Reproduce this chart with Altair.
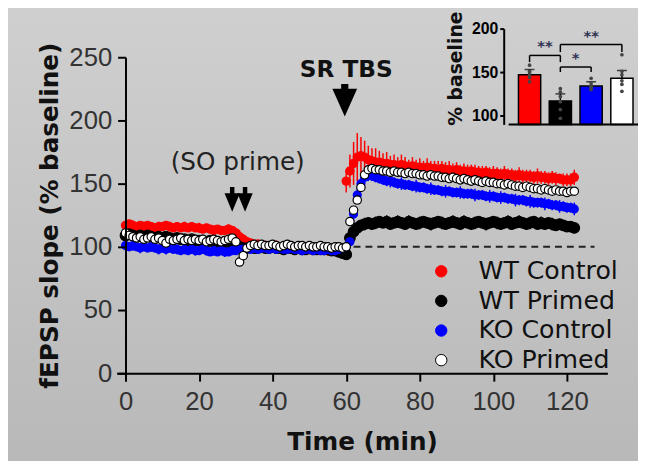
import altair as alt
import pandas as pd

# ---------------- data ----------------
series_names = ["WT Control", "WT Primed", "KO Control", "KO Primed"]
fill_colors = ["#ff0000", "#000000", "#0000ff", "#ffffff"]
stroke_colors = ["#ff0000", "#000000", "#0000ff", "#000000"]
point_sizes = [70, 115, 65, 72]

time_min = list(range(0, 123))

wt_control_mean = [
    117, 118, 117, 116, 117, 116, 117, 116, 115, 116,
    116, 117, 116, 115, 116, 115, 116, 115, 116, 115,
    115, 114, 115, 114, 113, 114, 113, 113, 114, 113,
    111, 108, 106, 104, 103, 102, 102, 101, 101, 100,
    100, 101, 100, 99, 100, 99, 99, 98, 99, 98,
    98, 99, 98, 97, 98, 97, 98, 97, 98, 99,
    152, 160, 166, 171, 172, 171, 169, 168, 167, 167,
    166, 166, 165, 165, 164, 165, 164, 163, 164, 163,
    163, 162, 163, 162, 162, 161, 162, 161, 161, 160,
    161, 160, 160, 159, 160, 159, 159, 158, 159, 158,
    158, 158, 157, 158, 157, 157, 156, 157, 156, 156,
    156, 155, 156, 155, 155, 154, 155, 154, 154, 153,
    153, 153, 155]
wt_control_sem = [
    3, 3, 4, 3, 3, 4, 3, 3, 3, 4,
    3, 3, 4, 3, 3, 3, 4, 3, 3, 3,
    4, 3, 3, 3, 4, 3, 3, 3, 4, 3,
    4, 5, 4, 4, 3, 3, 4, 3, 3, 3,
    3, 4, 3, 3, 3, 4, 3, 3, 3, 3,
    4, 3, 3, 3, 3, 4, 3, 3, 3, 4,
    9, 13, 17, 19, 15, 13, 11, 10, 11, 9,
    8, 9, 7, 8, 7, 8, 7, 6, 7, 6,
    7, 6, 7, 6, 6, 7, 6, 6, 7, 6,
    6, 5, 6, 6, 5, 6, 5, 6, 5, 5,
    6, 5, 5, 6, 5, 5, 5, 6, 5, 5,
    5, 5, 6, 5, 5, 5, 5, 5, 4, 5,
    5, 5, 6]

wt_primed_mean = [
    109, 110, 109, 108, 109, 108, 109, 108, 107, 108,
    107, 108, 107, 106, 107, 106, 106, 105, 106, 105,
    105, 105, 104, 105, 104, 104, 103, 104, 103, 104,
    102, 100, 99, 99, 100, 99, 99, 100, 99, 99,
    100, 99, 99, 98, 99, 99, 98, 99, 98, 98,
    99, 98, 98, 99, 98, 98, 97, 97, 96, 95,
    94, 107, 112, 115, 117, 118, 119, 118, 119, 120,
    119, 120, 118, 119, 120, 119, 118, 120, 119, 118,
    119, 120, 119, 118, 119, 120, 119, 118, 119, 120,
    119, 118, 120, 119, 118, 119, 120, 119, 118, 119,
    120, 119, 118, 119, 120, 118, 119, 120, 119, 118,
    119, 120, 118, 119, 118, 119, 118, 117, 118, 117,
    116, 116, 115]
wt_primed_sem = [
    2, 3, 2, 2, 3, 2, 2, 3, 2, 2,
    3, 2, 2, 3, 2, 2, 2, 3, 2, 2,
    2, 3, 2, 2, 3, 2, 2, 2, 3, 2,
    3, 3, 2, 2, 2, 3, 2, 2, 2, 3,
    2, 2, 3, 2, 2, 2, 3, 2, 2, 2,
    3, 2, 2, 2, 3, 2, 2, 3, 3, 4,
    4, 5, 5, 4, 4, 5, 4, 4, 5, 4,
    4, 5, 4, 4, 5, 4, 4, 5, 4, 4,
    5, 4, 4, 5, 4, 4, 5, 4, 4, 5,
    4, 4, 5, 4, 4, 5, 4, 4, 5, 4,
    4, 5, 4, 4, 5, 4, 4, 5, 4, 4,
    5, 4, 4, 5, 4, 4, 5, 4, 4, 4,
    4, 4, 4]

ko_control_mean = [
    101, 100, 101, 100, 99, 100, 99, 100, 99, 98,
    99, 98, 99, 98, 98, 97, 98, 97, 98, 97,
    97, 98, 97, 96, 97, 96, 97, 96, 96, 97,
    97, 98, 98, 99, 98, 99, 98, 99, 99, 98,
    99, 98, 99, 98, 98, 99, 98, 98, 97, 98,
    98, 97, 98, 97, 97, 98, 97, 97, 98, 99,
    100, 104, 126, 141, 150, 155, 157, 156, 155, 154,
    153, 152, 152, 151, 150, 150, 149, 149, 148, 148,
    147, 147, 146, 146, 145, 145, 144, 144, 144, 143,
    143, 143, 142, 142, 142, 141, 141, 141, 140, 140,
    140, 139, 139, 139, 138, 138, 137, 137, 137, 136,
    136, 135, 135, 135, 134, 134, 133, 133, 132, 132,
    131, 131, 130]
ko_control_sem = [
    4, 3, 4, 3, 4, 3, 3, 4, 3, 4,
    3, 4, 3, 3, 4, 3, 4, 3, 3, 4,
    3, 3, 4, 3, 4, 3, 3, 4, 3, 3,
    3, 3, 3, 3, 3, 3, 3, 3, 3, 3,
    3, 3, 3, 3, 3, 3, 3, 3, 3, 3,
    3, 3, 3, 3, 3, 3, 3, 3, 3, 3,
    4, 5, 6, 6, 5, 5, 5, 4, 4, 4,
    4, 4, 5, 4, 4, 5, 4, 4, 4, 5,
    4, 4, 4, 5, 4, 4, 4, 5, 4, 4,
    4, 5, 4, 4, 4, 5, 4, 4, 4, 5,
    4, 4, 5, 4, 4, 4, 5, 4, 4, 4,
    5, 4, 4, 4, 5, 4, 4, 4, 5, 4,
    4, 4, 5]

ko_primed_mean = [
    111, 109, 108, 107, 108, 106, 107, 108, 106, 107,
    105, 103, 106, 105, 106, 107, 105, 106, 105, 106,
    105, 106, 104, 105, 106, 105, 104, 105, 106, 107,
    104, 88, 93, 99, 101, 102, 101, 102, 101, 101,
    102, 101, 100, 101, 102, 101, 100, 101, 101, 100,
    101, 100, 100, 101, 100, 100, 99, 100, 100, 99,
    100, 120, 129, 137, 147, 157, 161, 162, 161, 161,
    160, 160, 159, 160, 159, 159, 158, 159, 158, 158,
    157, 157, 156, 157, 156, 156, 155, 155, 154, 155,
    154, 153, 154, 153, 152, 153, 152, 151, 152, 151,
    151, 150, 150, 149, 150, 149, 148, 148, 147, 148,
    147, 146, 146, 145, 146, 145, 144, 145, 144, 144,
    143, 144, 144]

baseline_value = 100
baseline_from = 62
baseline_to = 127.5

annotation_texts = ["SR TBS", "(SO prime)"]
annotation_t = [60, 30.5]
annotation_v = [239.5, 167]
sr_arrow_t = [59.6]
sr_arrow_v = [216]
prime_arrow_t = [29.0, 32.5]
prime_arrow_v = [137.5, 137.5]

# inset (bar graph)
inset_index = [0, 1, 2, 3]
inset_mean = [147, 117, 134, 143]
inset_err = [6, 8, 5, 9]
inset_base = 90
inset_dots = {
    0: [158, 151, 149, 147, 144, 139],
    1: [131, 127, 122, 116, 107, 97],
    2: [143, 138, 135, 132, 130, 133],
    3: [170, 151, 147, 140, 136, 128],
}
bracket_from = [0, 1, 1]
bracket_to = [1, 2, 3]
bracket_top = [169.2, 155.9, 181.7]
bracket_leg_bottom = [161.6, 150.2, 173.0]
star_texts = ["**", "*", "**"]
star_x = [0.5, 1.5, 2.0]
star_v = [180.5, 166.5, 192.0]

# ---------------- frames ----------------
all_means = [wt_control_mean, wt_primed_mean, ko_control_mean, ko_primed_mean]


def series_frame(name, means):
    return pd.DataFrame({"t": time_min, "v": means, "series": [name] * len(time_min)})


def err_frame(means, sems):
    return pd.DataFrame({"t": time_min,
                         "lo": [m - s for m, s in zip(means, sems)],
                         "hi": [m + s for m, s in zip(means, sems)]})


red_err = err_frame(wt_control_mean, wt_control_sem)
black_err = err_frame(wt_primed_mean, wt_primed_sem)
blue_err = err_frame(ko_control_mean, ko_control_sem)

base_df = pd.DataFrame({"t": [baseline_from], "t2": [baseline_to], "v": [baseline_value]})
ann_df = pd.DataFrame({"t": annotation_t, "v": annotation_v, "txt": annotation_texts})
sr_df = pd.DataFrame({"t": sr_arrow_t, "v": sr_arrow_v})
prime_df = pd.DataFrame({"t": prime_arrow_t, "v": prime_arrow_v})

bar_df = pd.DataFrame({"ix": inset_index, "iv": inset_mean, "series": series_names,
                       "base": [inset_base] * 4,
                       "top": [m + e for m, e in zip(inset_mean, inset_err)]})
dot_rows = []
for k, vals in inset_dots.items():
    for v in vals:
        dot_rows.append({"ix": k, "iv": v})
dot_df = pd.DataFrame(dot_rows)
br_h = pd.DataFrame({"ix": bracket_from, "ix2": bracket_to, "iv": bracket_top})
br_v = pd.DataFrame({"ix": bracket_from + bracket_to,
                     "iv": bracket_top + bracket_top,
                     "iv2": bracket_leg_bottom + bracket_leg_bottom})
star_df = pd.DataFrame({"ix": star_x, "iv": star_v, "txt": star_texts})
inset_axis_df = pd.DataFrame({"ix": [-0.68], "ix2": [3.6], "iv": [inset_base]})

# ---------------- scales / axes ----------------
W, H = 497, 320
xs = alt.Scale(domain=[-2.42, 131], nice=False, zero=False)
ys = alt.Scale(domain=[0, 250], nice=False, zero=False)
x_axis = alt.Axis(values=[0, 20, 40, 60, 80, 100, 120], title="Time (min)", zindex=1,
                  grid=False, domainColor="black", domainWidth=2, tickColor="black",
                  tickWidth=2, tickSize=8, labelFont="Liberation Sans", labelFontSize=26,
                  labelColor="#333333", labelPadding=8, labelFlush=False,
                  titleFont="DejaVu Sans", titleFontSize=25, titleFontWeight="bold",
                  titleColor="#111111", titlePadding=15)
y_axis = alt.Axis(values=[0, 50, 100, 150, 200, 250], title="fEPSP slope (% baseline)",
                  grid=False, offset=-9, zindex=1, domainColor="black", domainWidth=2,
                  tickColor="black", tickWidth=2, tickSize=8, labelFont="Liberation Sans",
                  labelFontSize=26, labelColor="#333333", labelPadding=6,
                  titleFont="DejaVu Sans", titleFontSize=25, titleFontWeight="bold",
                  titleColor="#111111", titlePadding=6)
X = alt.X("t:Q", scale=xs, axis=x_axis)
Y = alt.Y("v:Q", scale=ys, axis=y_axis)

fill_scale = alt.Scale(domain=series_names, range=fill_colors)
stroke_scale = alt.Scale(domain=series_names, range=stroke_colors)
leg = alt.Legend(orient="none", legendX=316, legendY=204, title=None, zindex=1,
                 labelFont="DejaVu Sans", labelFontSize=25.5, labelColor="#111111",
                 symbolType="circle", symbolSize=133, symbolStrokeWidth=1,
                 rowPadding=3, labelOffset=25, labelLimit=400, padding=0)

grad = alt.Gradient(gradient="linear",
                    stops=[alt.GradientStop(color="#d0d0d0", offset=0),
                           alt.GradientStop(color="#b8b8b8", offset=1)],
                    x1=0, x2=0, y1=0, y2=1)
bg = alt.Chart(pd.DataFrame({"a": [0]})).mark_rect(fill=grad).encode(
    x=alt.value(-120), x2=alt.value(W + 40), y=alt.value(-60), y2=alt.value(H + 100))


def err_layer(df, color):
    return alt.Chart(df).mark_rule(color=color, strokeWidth=1.5).encode(
        x=X, y=alt.Y("lo:Q", scale=ys, axis=y_axis), y2="hi:Q")


def point_layer(name, means, size):
    return alt.Chart(series_frame(name, means)).mark_circle(
        opacity=1, strokeWidth=1.2, size=size).encode(
        x=X, y=Y,
        fill=alt.Fill("series:N", scale=fill_scale, legend=leg),
        stroke=alt.Stroke("series:N", scale=stroke_scale, legend=leg),
    )


point_layers = [point_layer(n, m, s) for n, m, s in zip(series_names, all_means, point_sizes)]

dashed = alt.Chart(base_df).mark_rule(strokeDash=[7, 5], strokeWidth=2, color="#222222").encode(
    x=X, x2="t2:Q", y=Y)

ann_bold = alt.Chart(ann_df[ann_df.txt == "SR TBS"]).mark_text(
    font="DejaVu Sans", fontSize=23.5, fontWeight="bold", color="#111111",
    baseline="middle").encode(x=X, y=Y, text="txt:N")
ann_norm = alt.Chart(ann_df[ann_df.txt != "SR TBS"]).mark_text(
    font="DejaVu Sans", fontSize=25, color="#222222",
    baseline="middle").encode(x=X, y=Y, text="txt:N")

sr_path = "M-0.22,-1 L0.22,-1 L0.22,-0.7 L0.76,-0.7 L0,1 L-0.76,-0.7 L-0.22,-0.7 Z"
pr_path = "M-0.18,-1 L0.18,-1 L0.18,-0.5 L0.62,-0.5 L0,1 L-0.62,-0.5 L-0.18,-0.5 Z"
sr_arrow = alt.Chart(sr_df).mark_point(shape=sr_path, size=1089, filled=True,
                                       color="black", opacity=1, strokeWidth=0).encode(x=X, y=Y)
pr_arrow = alt.Chart(prime_df).mark_point(shape=pr_path, size=625, filled=True,
                                          color="black", opacity=1, strokeWidth=0).encode(x=X, y=Y)

main = alt.layer(bg, err_layer(red_err, "#ff0000"), err_layer(black_err, "#000000"),
                 err_layer(blue_err, "#0000ff"), dashed, *point_layers,
                 ann_bold, ann_norm, sr_arrow, pr_arrow)

# ---------------- inset ----------------
ixs = alt.Scale(domain=[-0.68, 3.6], range=[392, 535.4], nice=False, zero=False)
iys = alt.Scale(domain=[90, 200], range=[68, -29], nice=False, zero=False)
inset_axis = alt.Axis(orient="left", offset=-392, values=[100, 150, 200], title="% baseline",
                      grid=False, zindex=1, domainColor="black", domainWidth=2,
                      tickColor="black",
                      tickWidth=2, tickSize=4, labelFont="Liberation Sans", labelFontSize=16,
                      labelFontWeight="bold", labelColor="black", labelPadding=2,
                      titleFont="DejaVu Sans", titleFontSize=19, titleFontWeight="bold",
                      titleColor="#111111", titlePadding=6, titleY=11)
IX = alt.X("ix:Q", scale=ixs, axis=None)
IY = alt.Y("iv:Q", scale=iys, axis=inset_axis)

bars = alt.Chart(bar_df).mark_bar(width=22.5, stroke="black", strokeWidth=1.5).encode(
    x=IX, y=IY, y2="base:Q", fill=alt.Fill("series:N", scale=fill_scale, legend=leg))
ierr = alt.Chart(bar_df).mark_rule(color="black", strokeWidth=1.5).encode(
    x=IX, y=IY, y2="top:Q")
icap = alt.Chart(bar_df).mark_tick(orient="horizontal", size=10, thickness=1.5,
                                   color="black").encode(
    x=IX, y=alt.Y("top:Q", scale=iys, axis=inset_axis))
idots = alt.Chart(dot_df).mark_circle(size=14, color="#444444", opacity=1).encode(x=IX, y=IY)
ibr_h = alt.Chart(br_h).mark_rule(color="black", strokeWidth=1.5).encode(x=IX, x2="ix2:Q", y=IY)
ibr_v = alt.Chart(br_v).mark_rule(color="black", strokeWidth=1.5).encode(x=IX, y=IY, y2="iv2:Q")
istars = alt.Chart(star_df).mark_text(font="DejaVu Sans", fontSize=15, fontWeight="bold",
                                      color="#2e3352", baseline="middle").encode(
    x=IX, y=IY, text="txt:N")
ibase = alt.Chart(inset_axis_df).mark_rule(color="black", strokeWidth=2).encode(
    x=IX, x2="ix2:Q", y=IY)

inset = alt.layer(bars, ierr, icap, idots, ibr_h, ibr_v, istars, ibase)

chart = alt.layer(main, inset).resolve_scale(x="independent", y="independent").properties(
    width=W, height=H,
    autosize=alt.AutoSizeParams(type="none"),
    padding={"left": 110, "top": 47, "right": 31, "bottom": 86},
).configure_view(stroke=None).configure(background="#c4c4c4")

chart.save("out.html", embed_options={"renderer": "svg", "actions": False})
